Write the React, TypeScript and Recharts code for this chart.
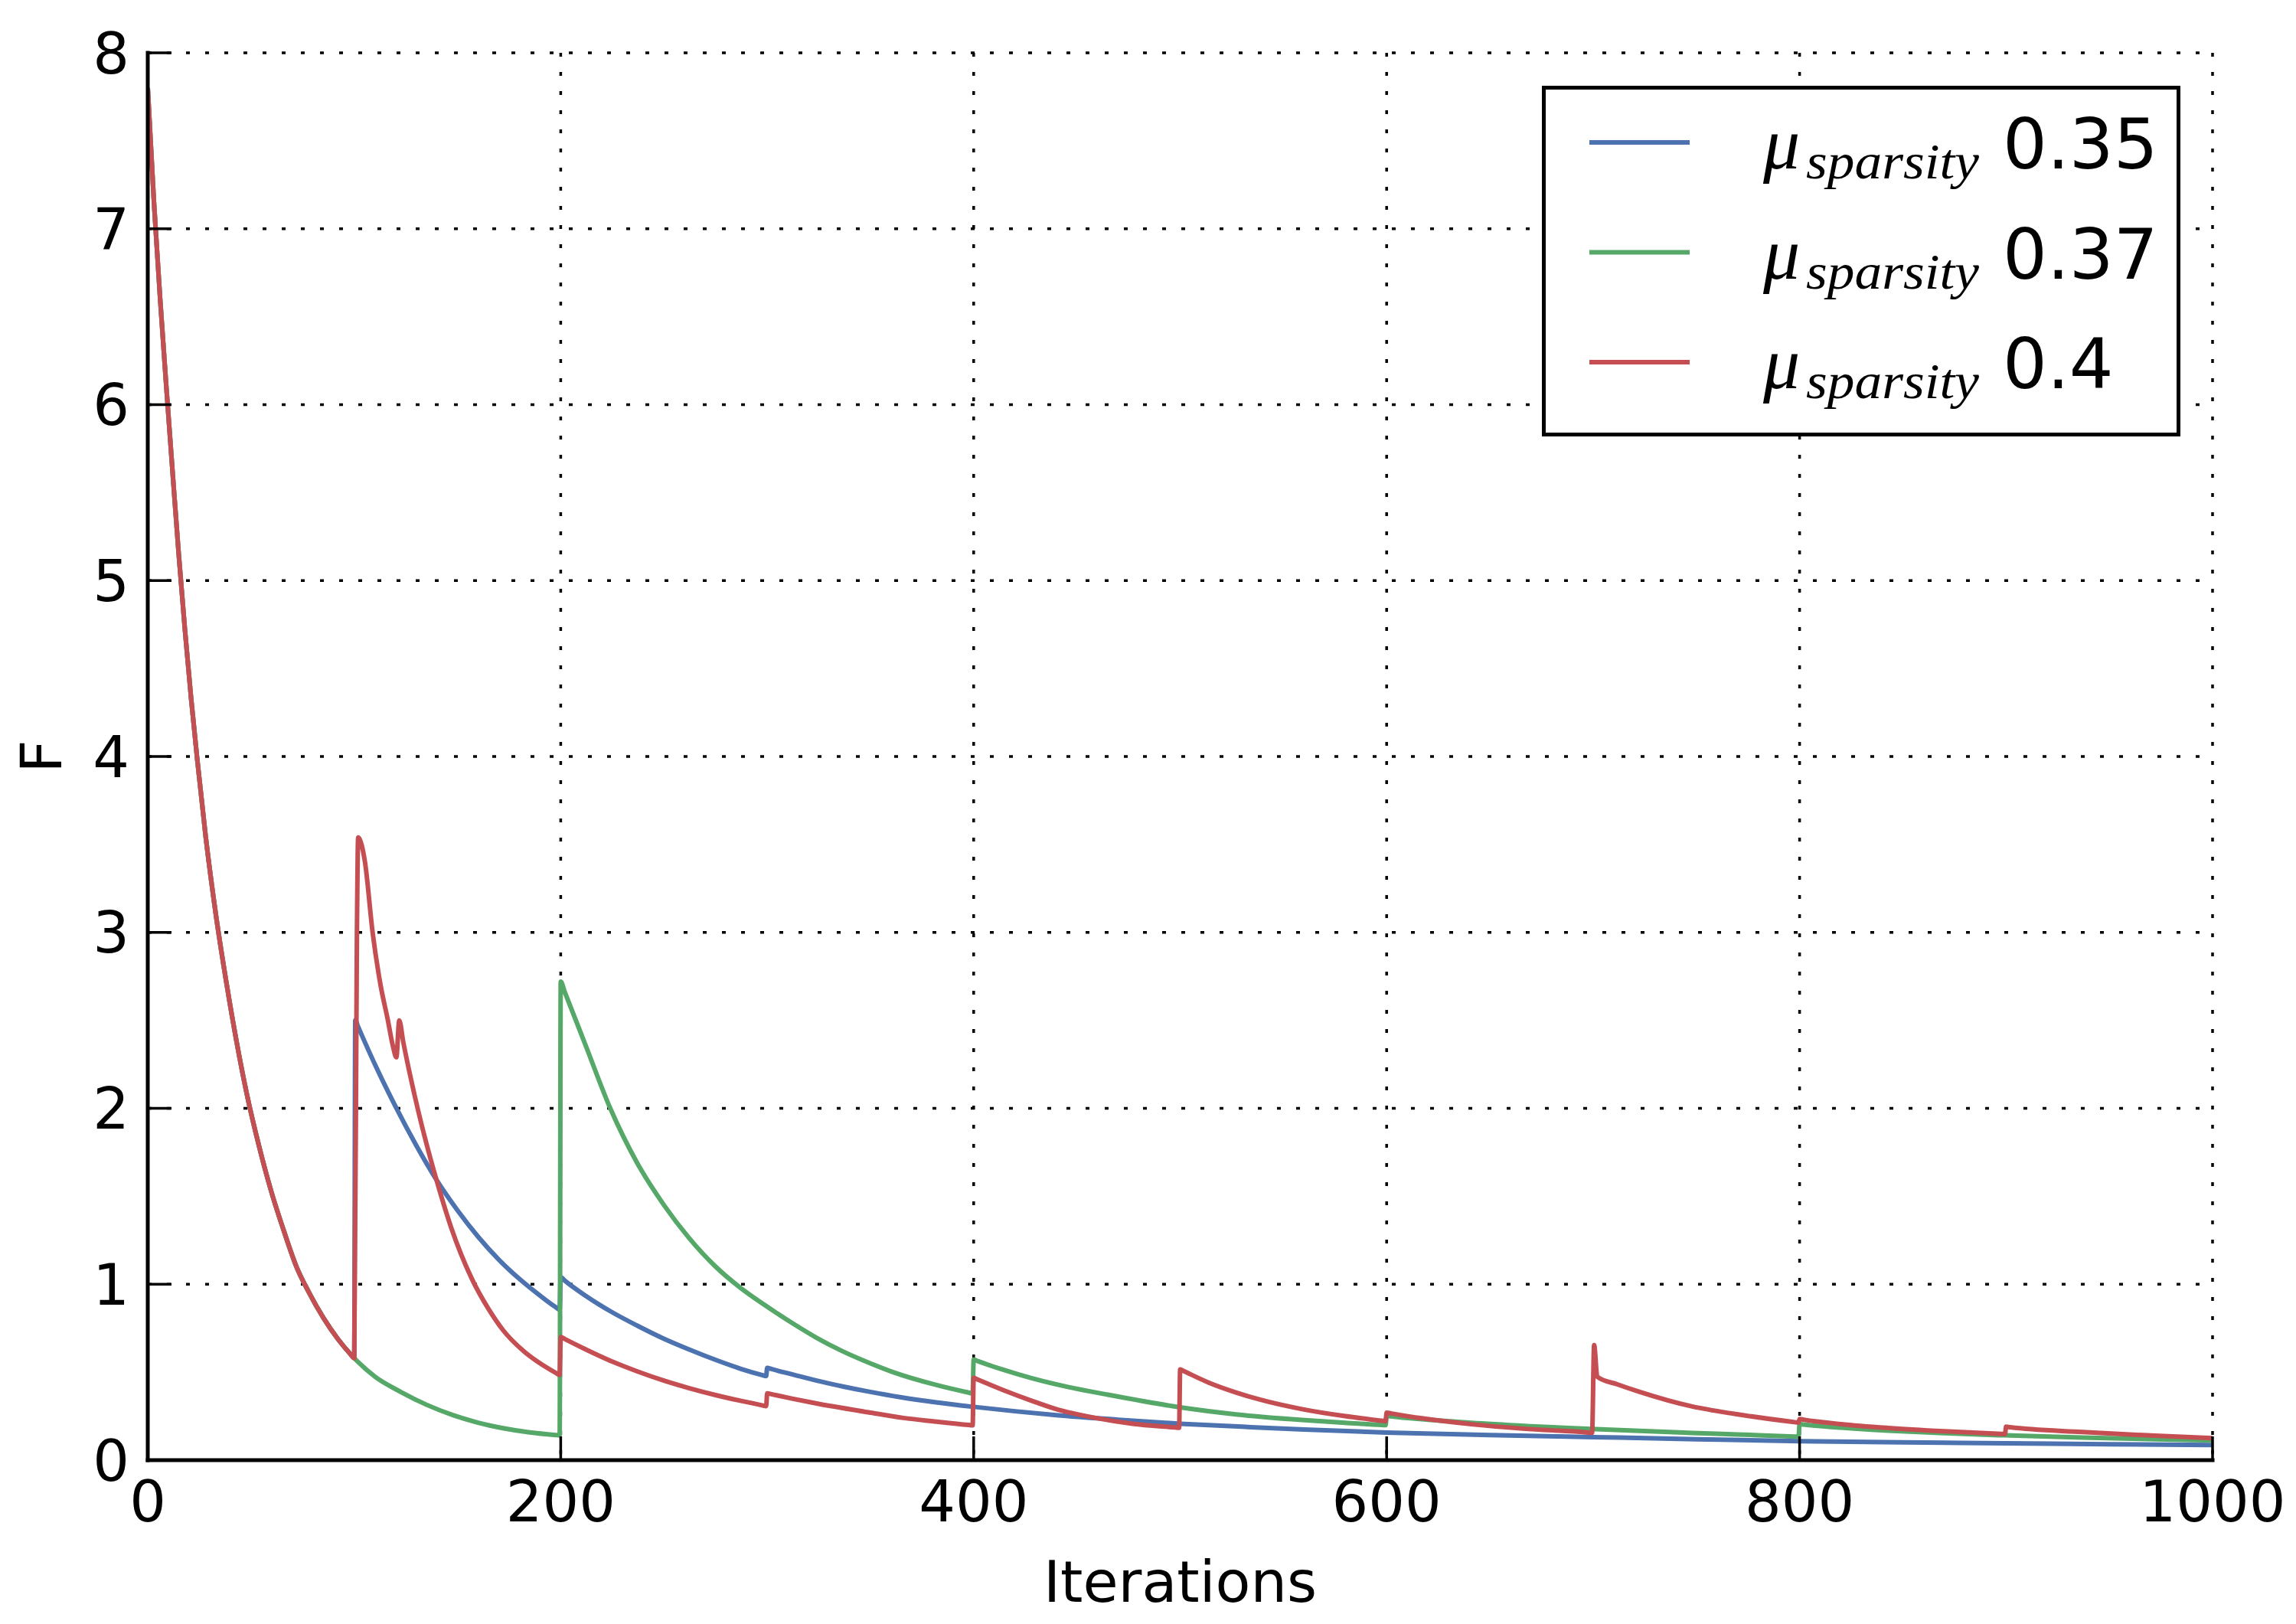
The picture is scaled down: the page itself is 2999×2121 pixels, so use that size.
import React from 'react';
import { LineChart, Line, XAxis, YAxis, CartesianGrid, Legend } from 'recharts';

// ---- data ----
const xTicks = [0, 200, 400, 600, 800, 1000];
const yTicks = [0, 1, 2, 3, 4, 5, 6, 7, 8];

// common initial decay shared by all three runs
const decayIters = [0, 3, 6, 9, 12, 15, 18, 21, 24, 28, 33, 38, 43, 48, 54, 60, 66, 72, 78, 85, 92, 98, 100];
const decayValues = [7.8, 7.15, 6.6, 6.1, 5.62, 5.15, 4.72, 4.33, 3.98, 3.55, 3.1, 2.72, 2.38, 2.08, 1.78, 1.52, 1.3, 1.1, 0.955, 0.81, 0.69, 0.605, 0.58];

// mu_sparsity 0.35
const blueIters = [100.5, 102, 110, 120, 130, 140, 150, 160, 170, 180, 190, 197.5, 199.5,
  200, 202, 212, 225, 237, 250, 262, 275, 287, 297.5, 299.5,
  300, 302, 312, 324, 337, 349, 365, 381, 400, 420, 440, 470, 500, 530, 560, 600, 650, 700, 750, 800, 850, 900, 950, 1000];
const blueValues = [2.5, 2.46, 2.25, 2.01, 1.79, 1.59, 1.42, 1.27, 1.14, 1.03, 0.935, 0.87, 0.855,
  1.04, 1.02, 0.935, 0.84, 0.765, 0.69, 0.63, 0.57, 0.52, 0.484, 0.478,
  0.525, 0.518, 0.488, 0.452, 0.418, 0.39, 0.357, 0.33, 0.303, 0.278, 0.256, 0.23, 0.207, 0.19, 0.174, 0.157, 0.143, 0.131, 0.119, 0.108, 0.101, 0.096, 0.09, 0.086];

// mu_sparsity 0.37
const greenIters = [110, 123, 135, 148, 160, 172, 185, 197.5, 199.5,
  200, 202, 212, 224, 237, 250, 262, 275, 287, 299, 312, 324, 336, 349, 361, 381, 397.5, 399.5,
  400, 402, 414, 428, 446, 465, 500, 527, 559, 580, 597.5, 599.5,
  600, 602, 620, 641, 670, 699, 748, 770, 797.5, 799.5,
  800, 802, 820, 843, 870, 899, 937, 1000];
const greenValues = [0.475, 0.385, 0.315, 0.255, 0.213, 0.182, 0.158, 0.143, 0.141,
  2.72, 2.66, 2.36, 2.0, 1.69, 1.45, 1.265, 1.1, 0.98, 0.88, 0.78, 0.695, 0.622, 0.555, 0.5, 0.43, 0.384, 0.379,
  0.572, 0.563, 0.515, 0.466, 0.415, 0.372, 0.3, 0.26, 0.228, 0.212, 0.2, 0.199,
  0.252, 0.249, 0.23, 0.212, 0.193, 0.177, 0.155, 0.146, 0.134, 0.133,
  0.205, 0.202, 0.185, 0.168, 0.153, 0.141, 0.128, 0.112];

// mu_sparsity 0.4
const redIters = [101.3, 101.9, 103.5, 105.2, 108.9, 112.6, 116.3, 118.8, 120.4, 121.8, 123.7, 127.4, 131.1, 135.4, 139.9, 147, 157, 165, 172, 182, 192, 197.5, 199.5,
  200, 202, 212, 225, 237, 250, 262, 275, 287, 297.5, 299.5,
  300, 302, 312, 324, 349, 366, 381, 397.5, 399.5,
  400, 402, 415, 428, 440, 459, 477, 497.5, 499.5,
  500, 502, 514, 527, 539, 559, 580, 597.5, 599.5,
  600, 602, 617, 642, 666, 697.5, 699.5, 700.5, 702, 712, 722, 748, 769, 797.5, 799.5,
  800, 802, 820, 843, 870, 897.5, 899.5,
  900, 902, 937, 970, 1000];
const redValues = [3.0, 3.54, 3.5, 3.4, 3.0, 2.71, 2.5, 2.35, 2.29, 2.5, 2.38, 2.17, 1.98, 1.78, 1.59, 1.32, 1.03, 0.86, 0.74, 0.62, 0.535, 0.497, 0.485,
  0.7, 0.688, 0.63, 0.56, 0.505, 0.452, 0.41, 0.37, 0.338, 0.312, 0.307,
  0.38, 0.375, 0.35, 0.322, 0.272, 0.24, 0.22, 0.2, 0.198,
  0.468, 0.458, 0.395, 0.338, 0.29, 0.24, 0.207, 0.186, 0.184,
  0.516, 0.505, 0.44, 0.385, 0.343, 0.29, 0.25, 0.224, 0.221,
  0.27, 0.266, 0.238, 0.203, 0.179, 0.157, 0.155, 0.654, 0.474, 0.43, 0.39, 0.305, 0.262, 0.216, 0.213,
  0.234, 0.23, 0.205, 0.183, 0.164, 0.149, 0.148,
  0.19, 0.187, 0.16, 0.14, 0.125];

const seriesNames = ['0.35', '0.37', '0.4'];
const seriesColors = ['#4C72B0', '#55A868', '#C44E52'];

const build = (iters: number[], values: number[]) => iters.map((x, i) => ({ x, y: values[i] }));
const decay = build(decayIters, decayValues);
const blueData = [...decay, ...build(blueIters, blueValues)];
const greenData = [...decay, ...build(greenIters, greenValues)];
const redData = [...decay, ...build(redIters, redValues)];
const allSeries = [blueData, greenData, redData];

// ---- layout ----
const W = 2980;
const H = 2112;
const FONT = "'DejaVu Sans', sans-serif";
const tickStyle = { fill: '#000', fontSize: 75, fontFamily: FONT };
const axisLineStyle = { stroke: '#000', strokeWidth: 5, strokeLinecap: 'square' as const };
const tickLineStyle = { stroke: '#000', strokeWidth: 3.5 };

const LegendBox = (props: any) => {
  const payload = props.payload || [];
  return (
    <div
      style={{
        width: 834,
        height: 458,
        border: '5px solid #000',
        boxSizing: 'border-box',
        background: '#fff',
      }}
    >
      <svg width={824} height={448} style={{ display: 'block' }}>
        {payload.map((entry: any, i: number) => {
          const cy = 69 + i * 143.5;
          return (
            <g key={String(entry.value)}>
              <line x1={57} x2={188} y1={cy} y2={cy} stroke={entry.color} strokeWidth={6} />
              <text
                x={284}
                y={cy + 34}
                fontFamily="'Liberation Serif', 'DejaVu Serif', serif"
                fontStyle="italic"
                fontSize={96}
                fill="#000"
              >
                μ
              </text>
              <text
                x={340}
                y={cy + 47}
                fontFamily="'Liberation Serif', 'DejaVu Serif', serif"
                fontStyle="italic"
                fontSize={66}
                fill="#000"
                textLength={226}
                lengthAdjust="spacingAndGlyphs"
              >
                sparsity
              </text>
              <text x={597} y={cy + 34} fontFamily={FONT} fontSize={91} fill="#000">
                {entry.value}
              </text>
            </g>
          );
        })}
      </svg>
    </div>
  );
};

export default function App() {
  return (
    <div style={{ width: W, height: H, background: '#fff' }}>
      <LineChart width={W} height={H} margin={{ top: 61, right: 98, bottom: 93, left: 85 }}>
        <XAxis
          dataKey="x"
          type="number"
          domain={[0, 1000]}
          ticks={xTicks}
          allowDataOverflow
          height={120}
          tick={tickStyle}
          tickSize={-31}
          tickMargin={58}
          tickLine={tickLineStyle}
          axisLine={axisLineStyle}
          interval={0}
          label={{ value: 'Iterations', position: 'bottom', offset: 12, fill: '#000', fontSize: 75, fontFamily: FONT }}
        />
        <XAxis
          xAxisId="top"
          orientation="top"
          dataKey="x"
          type="number"
          domain={[0, 1000]}
          ticks={xTicks}
          allowDataOverflow
          height={0}
          tick={false}
          tickSize={-31}
          tickLine={tickLineStyle}
          axisLine={axisLineStyle}
          interval={0}
        />
        <YAxis
          type="number"
          domain={[0, 8]}
          ticks={yTicks}
          allowDataOverflow
          width={100}
          tick={tickStyle}
          tickSize={-31}
          tickMargin={55}
          tickLine={tickLineStyle}
          axisLine={axisLineStyle}
          interval={0}
          label={{ value: 'F', angle: -90, position: 'center', dx: -90, fill: '#000', fontSize: 75, fontFamily: FONT }}
        />
        <YAxis
          yAxisId="right"
          orientation="right"
          type="number"
          domain={[0, 8]}
          ticks={yTicks}
          allowDataOverflow
          width={0}
          tick={false}
          tickSize={-31}
          tickLine={tickLineStyle}
          axisLine={axisLineStyle}
          interval={0}
        />
        {allSeries.map((d, i) => (
          <Line
            key={seriesNames[i]}
            data={d}
            dataKey="y"
            name={seriesNames[i]}
            type="monotoneX"
            stroke={seriesColors[i]}
            strokeWidth={6}
            strokeLinejoin="round"
            dot={false}
            activeDot={false}
            isAnimationActive={false}
          />
        ))}
        <CartesianGrid stroke="#000" strokeWidth={3.5} strokeDasharray="5 20" />
        <Legend
          layout="horizontal"
          verticalAlign="middle"
          align="center"
          content={<LegendBox />}
          wrapperStyle={{ position: 'absolute', left: 2006, top: 104, width: 834, height: 458 }}
        />
      </LineChart>
    </div>
  );
}
